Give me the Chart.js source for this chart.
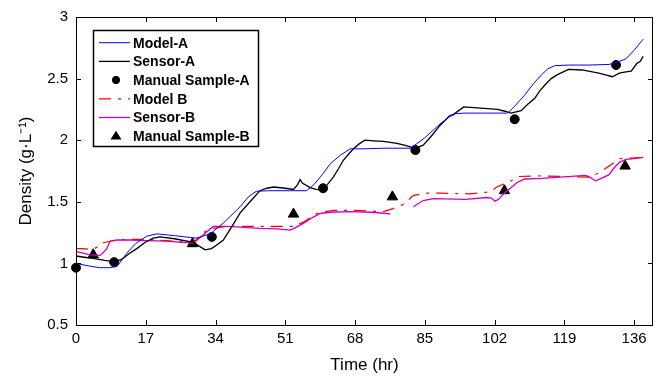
<!DOCTYPE html>
<html>
<head>
<meta charset="utf-8">
<script src="https://cdn.jsdelivr.net/npm/chart.js@4.4.0/dist/chart.umd.min.js"></script>
<style>
  html, body { margin: 0; padding: 0; background: #fff; }
</style>
</head>
<body>
<canvas id="c" width="660" height="382"></canvas>
<script>
// values (time in hr, density in g/L)
const modelA_t = [0, 3, 5.8, 8, 10, 12.3, 14.5, 17.2, 19.7, 24, 29.4, 32.7, 36, 40, 42, 43.9, 47, 52, 56.2, 58, 60, 62, 64.5, 66.8, 70, 75, 81.4, 83, 85, 87, 89, 91, 92.5, 94.5, 100, 105.2, 107, 109.3, 111.5, 113.4, 115, 116.7, 120, 125, 129.9, 132, 134, 136, 138.2];
const modelA_y = [1.0, 0.98, 0.965, 0.965, 0.975, 1.08, 1.16, 1.22, 1.24, 1.225, 1.205, 1.24, 1.33, 1.46, 1.54, 1.585, 1.59, 1.59, 1.59, 1.64, 1.72, 1.81, 1.88, 1.93, 1.93, 1.935, 1.935, 1.97, 2.02, 2.08, 2.14, 2.19, 2.215, 2.22, 2.22, 2.22, 2.28, 2.365, 2.46, 2.53, 2.58, 2.605, 2.61, 2.61, 2.615, 2.635, 2.66, 2.73, 2.82];

const sensorA_t = [0, 2, 4.2, 7, 9.3, 11, 13, 14.8, 16.8, 18.8, 20.5, 24, 28.6, 30, 31.5, 33, 34.3, 35.9, 38, 40, 42.4, 44.8, 46.5, 48.1, 51, 53, 54, 54.6, 55.2, 55.8, 57, 58.5, 59.8, 61, 62.7, 64, 65.1, 66.5, 67.6, 69, 70.4, 72.5, 74.9, 78.2, 80, 81.5, 82.7, 84.6, 86.5, 88.7, 91.1, 92, 94.5, 98.6, 102.7, 104.5, 106, 108.5, 110, 111.8, 113, 114.3, 115.8, 117.2, 120, 123.3, 127.4, 129, 130.7, 132.4, 134, 135.3, 136.6, 137.5, 138.2];
const sensorA_y = [1.06, 1.05, 1.04, 1.025, 1.015, 1.03, 1.08, 1.12, 1.17, 1.205, 1.215, 1.2, 1.17, 1.14, 1.11, 1.12, 1.15, 1.19, 1.3, 1.41, 1.5, 1.59, 1.61, 1.62, 1.61, 1.6, 1.64, 1.68, 1.65, 1.64, 1.615, 1.6, 1.595, 1.63, 1.7, 1.77, 1.835, 1.89, 1.93, 1.97, 2.0, 1.995, 1.99, 1.975, 1.96, 1.945, 1.935, 1.96, 2.03, 2.12, 2.2, 2.21, 2.27, 2.26, 2.25, 2.235, 2.22, 2.24, 2.29, 2.34, 2.4, 2.45, 2.5, 2.53, 2.575, 2.57, 2.545, 2.53, 2.515, 2.545, 2.555, 2.56, 2.62, 2.64, 2.68];

const sampleA_t = [0, 9.3, 33.1, 60.2, 82.7, 106.9, 131.6];
const sampleA_y = [0.965, 1.01, 1.215, 1.61, 1.92, 2.17, 2.61];

const modelB_t = [0, 1.6, 3, 4.5, 5.5, 6.2, 8.3, 10, 14, 17, 22, 26, 28.6, 30.2, 31.8, 33.4, 36.7, 44.8, 48, 53, 55.4, 57, 58.7, 60.5, 62.7, 68, 74.9, 77.3, 79.8, 82.2, 85, 88.7, 96, 100.9, 102.5, 105.2, 107.7, 113.4, 120, 125, 127.5, 129.9, 132.4, 135, 138.2];
const modelB_y = [1.12, 1.12, 1.115, 1.12, 1.14, 1.165, 1.18, 1.19, 1.195, 1.195, 1.185, 1.175, 1.165, 1.23, 1.265, 1.285, 1.3, 1.3, 1.3, 1.3, 1.335, 1.37, 1.405, 1.42, 1.43, 1.43, 1.42, 1.445, 1.48, 1.55, 1.57, 1.57, 1.565, 1.58, 1.62, 1.655, 1.705, 1.71, 1.705, 1.7, 1.735, 1.79, 1.85, 1.855, 1.86];

const sensorB_t = [0, 1.5, 3.4, 5.8, 6.7, 7.5, 8.3, 10, 13.2, 17, 22, 26, 28.6, 31, 33.4, 36.7, 40, 44.8, 49, 52.2, 53.5, 55.4, 57.5, 59.5, 62, 66.8, 72, 75.7, 76.6, 79, 82.2, 84.6, 87.1, 95, 100.1, 101.2, 102.1, 103, 104.5, 105.5, 107.4, 109.3, 113.4, 118, 124.2, 125.2, 126.6, 128, 129.9, 131, 132.4, 134, 136, 138.2];
const sensorB_y = [1.095, 1.085, 1.07, 1.065, 1.09, 1.12, 1.18, 1.19, 1.19, 1.185, 1.18, 1.17, 1.165, 1.23, 1.3, 1.3, 1.295, 1.285, 1.28, 1.27, 1.29, 1.325, 1.37, 1.405, 1.415, 1.42, 1.415, 1.405, 1.40, null, 1.46, 1.51, 1.525, 1.52, 1.535, 1.53, 1.505, 1.52, 1.575, 1.6, 1.655, 1.685, 1.69, 1.7, 1.715, 1.7, 1.67, 1.69, 1.72, 1.77, 1.82, 1.845, 1.85, 1.86];

const sampleB_t = [4.2, 28.4, 53, 77.1, 104.4, 133.8];
const sampleB_y = [1.07, 1.16, 1.40, 1.54, 1.59, 1.79];

const xTicksStep = 17;
const yTicksStep = 0.5;

function pts(t, y) {
  return t.map((v, i) => ({ x: v, y: y[i] }));
}

const FONT = '"Liberation Sans", Arial, Helvetica, sans-serif';

// inward ticks on all four sides plus the box, MATLAB style
const frameTicks = {
  id: 'frameTicks',
  afterDraw(chart) {
    const { ctx, chartArea: a, scales: { x, y } } = chart;
    const len = 5;
    ctx.save();
    ctx.strokeStyle = '#000';
    ctx.lineWidth = 1;
    ctx.strokeRect(a.left + 0.5, a.top + 0.5, a.right - a.left - 1, a.bottom - a.top);
    ctx.beginPath();
    x.ticks.forEach(t => {
      const px = Math.round(x.getPixelForValue(t.value)) + 0.5;
      ctx.moveTo(px, a.bottom); ctx.lineTo(px, a.bottom - len);
      ctx.moveTo(px, a.top); ctx.lineTo(px, a.top + len);
    });
    y.ticks.forEach(t => {
      const py = Math.round(y.getPixelForValue(t.value)) + 0.5;
      ctx.moveTo(a.left, py); ctx.lineTo(a.left + len, py);
      ctx.moveTo(a.right, py); ctx.lineTo(a.right - len, py);
    });
    ctx.stroke();
    ctx.restore();
  }
};

// boxed legend in the upper left corner of the plot
const boxLegend = {
  id: 'boxLegend',
  afterDraw(chart) {
    const { ctx, chartArea: a } = chart;
    const bx = a.left + 17, by = a.top + 13, bw = 165, bh = 116, rowH = 18.7;
    ctx.save();
    ctx.fillStyle = '#fff';
    ctx.fillRect(bx, by, bw, bh);
    ctx.strokeStyle = '#000';
    ctx.lineWidth = 1.5;
    ctx.strokeRect(bx + 0.5, by + 0.5, bw, bh);
    ctx.font = 'bold 14px ' + FONT;
    ctx.textBaseline = 'middle';
    chart.data.datasets.forEach((ds, i) => {
      const cy = by + 12.7 + i * rowH;
      if (ds.showLine === false) {
        ctx.fillStyle = '#000';
        ctx.beginPath();
        if (ds.pointStyle === 'triangle') {
          const r = 5.5;
          ctx.moveTo(bx + 23, cy - r);
          ctx.lineTo(bx + 23 + r, cy + r * 0.6);
          ctx.lineTo(bx + 23 - r, cy + r * 0.6);
          ctx.closePath();
        } else {
          ctx.arc(bx + 23, cy, 4, 0, Math.PI * 2);
        }
        ctx.fill();
      } else {
        ctx.strokeStyle = ds.borderColor;
        ctx.lineWidth = ds.borderWidth;
        ctx.setLineDash(ds.borderDash || []);
        ctx.beginPath();
        ctx.moveTo(bx + 6, cy);
        ctx.lineTo(bx + 37, cy);
        ctx.stroke();
        ctx.setLineDash([]);
      }
      ctx.fillStyle = '#000';
      ctx.fillText(ds.label, bx + 40, cy + 1);
    });
    ctx.restore();
  }
};

new Chart(document.getElementById('c'), {
  type: 'line',
  data: {
    datasets: [
      { label: 'Model-A', data: pts(modelA_t, modelA_y), borderColor: '#0000ff', borderWidth: 1, pointRadius: 0 },
      { label: 'Sensor-A', data: pts(sensorA_t, sensorA_y), borderColor: '#000000', borderWidth: 1.3, pointRadius: 0 },
      { label: 'Manual Sample-A', data: pts(sampleA_t, sampleA_y), showLine: false, pointStyle: 'circle', pointRadius: 4.5, backgroundColor: '#000', borderColor: '#000', clip: false },
      { label: 'Model B', data: pts(modelB_t, modelB_y), borderColor: '#ff0000', borderWidth: 1.2, borderDash: [12, 7, 3, 7], pointRadius: 0 },
      { label: 'Sensor-B', data: pts(sensorB_t, sensorB_y), borderColor: '#cc00cc', borderWidth: 1.3, pointRadius: 0, spanGaps: false },
      { label: 'Manual Sample-B', data: pts(sampleB_t, sampleB_y), showLine: false, pointStyle: 'triangle', pointRadius: 6, backgroundColor: '#000', borderColor: '#000', clip: false }
    ]
  },
  options: {
    responsive: false,
    animation: false,
    layout: { padding: { top: 15, right: 7, left: 0, bottom: 0 } },
    elements: { line: { tension: 0 } },
    plugins: {
      legend: { display: false },
      tooltip: { enabled: false }
    },
    scales: {
      x: {
        type: 'linear',
        min: 0,
        max: 140.6,
        afterFit: s => { s.height = 57; },
        grid: { display: false, drawTicks: false },
        border: { display: false },
        ticks: { stepSize: xTicksStep, includeBounds: false, color: '#000', padding: 5, maxRotation: 0, font: { family: FONT, size: 15 } },
        title: { display: true, text: 'Time (hr)', color: '#000', padding: { top: 0, bottom: 6 }, font: { family: FONT, size: 17, weight: 'normal' } }
      },
      y: {
        type: 'linear',
        min: 0.5,
        max: 3,
        afterFit: s => { s.width = 76; },
        grid: { display: false, drawTicks: false },
        border: { display: false },
        ticks: { stepSize: yTicksStep, color: '#000', padding: 8, font: { family: FONT, size: 15 }, callback: v => String(v) },
        title: { display: true, text: 'Density (g·L⁻¹)', color: '#000', padding: { top: 16, bottom: 0 }, font: { family: FONT, size: 17, weight: 'normal' } }
      }
    }
  },
  plugins: [frameTicks, boxLegend]
});
</script>
</body>
</html>
